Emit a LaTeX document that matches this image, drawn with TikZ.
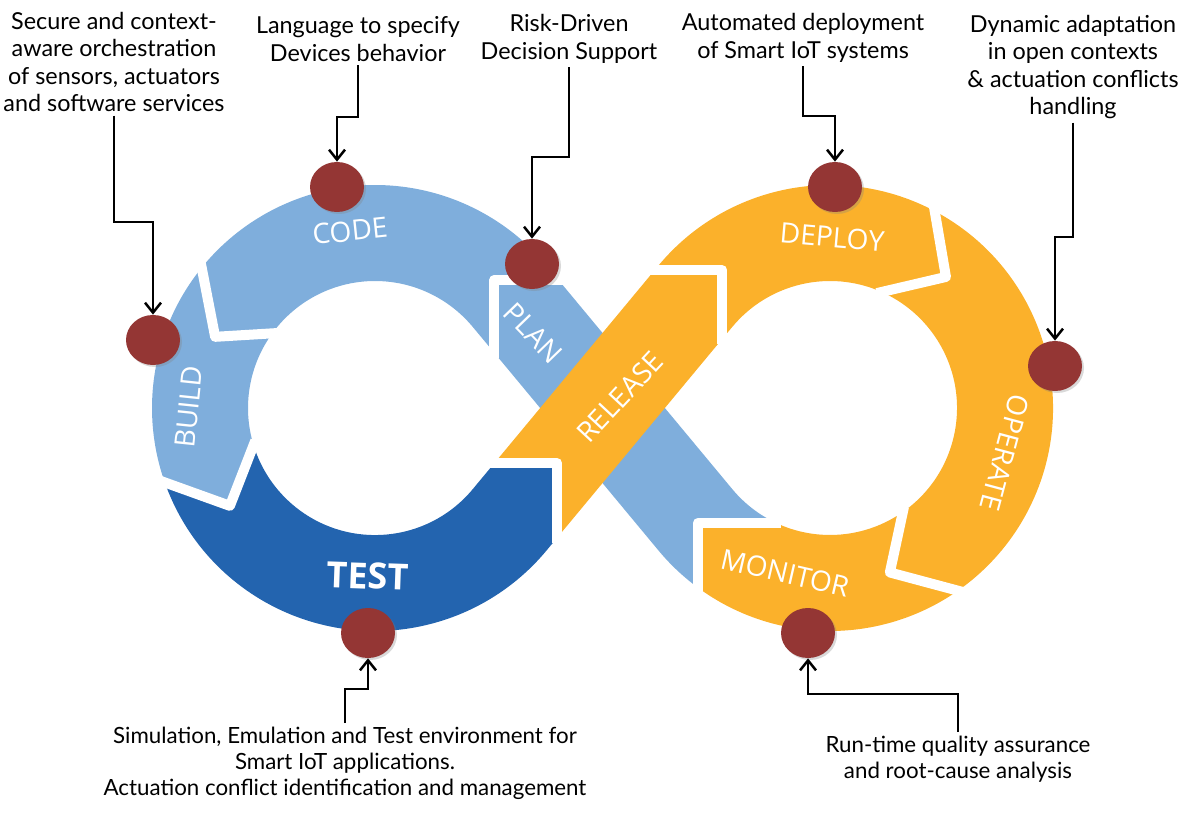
\documentclass[tikz,border=0pt]{standalone}
\usepackage{fontspec}
\setmainfont{Lato}
\newfontfamily\phasefont{Open Sans}
\usetikzlibrary{arrows.meta,calc,shapes.geometric,shadows}
\definecolor{planblue}{HTML}{7FAEDC}
\definecolor{testblue}{HTML}{2364AF}
\definecolor{opsorange}{HTML}{FBB12B}
\definecolor{dotred}{HTML}{943634}

\begin{document}
\begin{tikzpicture}[x=0.2mm,y=0.2mm,
  caption/.style={font=\fontsize{13.3}{15.6}\selectfont,align=center,inner sep=2pt},
  phase/.style={font=\phasefont\fontsize{16}{16}\selectfont,text=white,inner sep=0pt},
  spot/.style={ellipse,fill=dotred,minimum width=10.8mm,minimum height=10mm,inner sep=0pt,
    drop shadow={opacity=0.3,shadow xshift=0.4mm,shadow yshift=-0.4mm}},
  link/.style={line width=0.5mm,-{Straight Barb[length=2mm,width=3.2mm]}},
  gap/.style={white,line width=2mm,line join=round,shorten <=-1mm,shorten >=-1mm}]
  \useasboundingbox (0,0) rectangle (1200,816);

  % ring centres
  \coordinate (L) at (375,408);
  \coordinate (R) at (830,408);

  % PLAN: diagonal band under the crossing
  \fill[planblue] (697.9,293.2) -- (775.7,293.2) arc[start angle=-115.3,end angle=-140.28,radius=127]
    -- (558.5,536) -- (494.3,536) -- (494.3,463.2) -- (658.5,265.5)
    arc[start angle=219.72,end angle=233.7,radius=223] -- cycle;

  % left ring
  \fill[planblue] (558.5,536) -- (546.5,550.5) arc[start angle=39.72,end angle=141,radius=223]
    -- ($(L)+(156:175)$) -- ($(L)+(144:127)$) arc[start angle=144,end angle=39.72,radius=127]
    -- (494.3,463.2) -- (494.3,536) -- cycle;
  \fill[planblue] ($(L)+(141:223)$) arc[start angle=141,end angle=199.5,radius=223]
    -- ($(L)+(214:175)$) -- ($(L)+(197:127)$) arc[start angle=197,end angle=144,radius=127]
    -- ($(L)+(156:175)$) -- cycle;
  \fill[testblue] ($(L)+(199.5:223)$) arc[start angle=199.5,end angle=320.28,radius=223]
    -- (557,278.1) -- (557,353) -- (494.5,353) -- (472.7,326.8)
    arc[start angle=320.28,end angle=197,radius=127] -- ($(L)+(214:175)$) -- cycle;

  % right ring
  \fill[opsorange] (654.7,545.9) -- (658.5,550.5) arc[start angle=140.28,end angle=62,radius=223]
    -- ($(R)+(48.5:175)$) -- ($(R)+(66:127)$) arc[start angle=66,end angle=140.28,radius=127]
    -- (722.3,477.2) -- (722.3,545.9) -- cycle;
  \fill[opsorange] ($(R)+(62:223)$) arc[start angle=62,end angle=-55,radius=223]
    -- ($(R)+(-70:175)$) -- ($(R)+(-55:127)$) arc[start angle=-55,end angle=66,radius=127]
    -- ($(R)+(48.5:175)$) -- cycle;
  \fill[opsorange] ($(R)+(-55:223)$) arc[start angle=-55,end angle=-126.3,radius=223]
    -- (697.9,293.2) -- (775.7,293.2) arc[start angle=-115.3,end angle=-55,radius=127]
    -- ($(R)+(-70:175)$) -- cycle;

  % RELEASE: diagonal band over the crossing
  \fill[opsorange] (557,278.1) -- (722.3,477.2) -- (722.3,545.9) -- (654.7,545.9)
    -- (494.5,353) -- (557,353) -- cycle;

  % white gaps between the phases
  \draw[gap] (558.5,536) -- (494.3,536) -- (494.3,463.2);
  \draw[gap] ($(L)+(141:223)$) -- ($(L)+(156:175)$) -- ($(L)+(144:127)$);
  \draw[gap] ($(L)+(199.5:223)$) -- ($(L)+(214:175)$) -- ($(L)+(197:127)$);
  \draw[gap] (557,278.1) -- (557,353) -- (494.5,353);
  \draw[gap] (654.7,545.9) -- (722.3,545.9) -- (722.3,477.2);
  \draw[gap] ($(R)+(62:223)$) -- ($(R)+(48.5:175)$) -- ($(R)+(66:127)$);
  \draw[gap] ($(R)+(-55:223)$) -- ($(R)+(-70:175)$) -- ($(R)+(-55:127)$);
  \draw[gap] (697.9,228.3) -- (697.9,293.2) -- (775.7,293.2);

  % phase names
  \node[phase,rotate=6] (lCode) at (350,585) {CODE};
  \node[phase,rotate=84] (lBuild) at (189,409) {BUILD};
  \node[phase,rotate=-46] (lPlan) at (533,483) {PLAN};
  \node[phase,font=\phasefont\bfseries\fontsize{20.5}{20.5}\selectfont,rotate=-2] (lTest) at (368,240) {TEST};
  \node[phase,rotate=47] (lRelease) at (620,419) {RELEASE};
  \node[phase,rotate=-5] (lDeploy) at (832,579) {DEPLOY};
  \node[phase,rotate=-105] (lOperate) at (1005,363) {OPERATE};
  \node[phase,rotate=-13] (lMonitor) at (785,243) {MONITOR};

  % red spots
  \node[spot] (dCode) at (337,629) {};
  \node[spot] (dPlan) at (532,552) {};
  \node[spot] (dBuild) at (153,476) {};
  \node[spot] (dTest) at (368,183) {};
  \node[spot] (dDeploy) at (835,629) {};
  \node[spot] (dOperate) at (1055,450) {};
  \node[spot] (dMonitor) at (808,183) {};

  % captions
  \node[caption] (secure) at (114,754) {Secure and context-\\aware orchestration\\of sensors, actuators\\and software services};
  \node[caption] (lang) at (358,777) {Language to specify\\Devices behavior};
  \node[caption] (risk) at (569,777) {Risk-Driven\\Decision Support};
  \node[caption] (auto) at (803,778) {Automated deployment\\of Smart IoT systems};
  \node[caption] (dyn) at (1073,749) {Dynamic adaptation\\in open contexts\\\& actuation conflicts\\handling};
  \node[caption,font=\fontsize{12.7}{14.7}\selectfont] (sim) at (345,53) {Simulation, Emulation and Test environment for\\Smart IoT applications.\\Actuation conflict identification and management};
  \node[caption,font=\fontsize{12.7}{14.7}\selectfont] (runtime) at (958,57) {Run-time quality assurance\\and root-cause analysis};

  % bends of the connectors
  \coordinate (kBuild) at (0,594);
  \coordinate (kCode) at (0,699);
  \coordinate (kPlan) at (0,659);
  \coordinate (kDeploy) at (0,700);
  \coordinate (kOperate) at (0,579);
  \coordinate (kTest) at (0,127);
  \coordinate (kMonitor) at (0,122);

  \draw[link] (secure.south) -- (secure.south |- kBuild) -| (dBuild.north);
  \draw[link] (lang.south) -- (lang.south |- kCode) -| (dCode.north);
  \draw[link] (risk.south) -- (risk.south |- kPlan) -| (dPlan.north);
  \draw[link] (auto.south) -- (auto.south |- kDeploy) -| (dDeploy.north);
  \draw[link] (dyn.south) -- (dyn.south |- kOperate) -| (dOperate.north);
  \draw[link] (sim.north) -- (sim.north |- kTest) -| (dTest.south);
  \draw[link] (runtime.north) -- (runtime.north |- kMonitor) -| (dMonitor.south);
\end{tikzpicture}
\end{document}
